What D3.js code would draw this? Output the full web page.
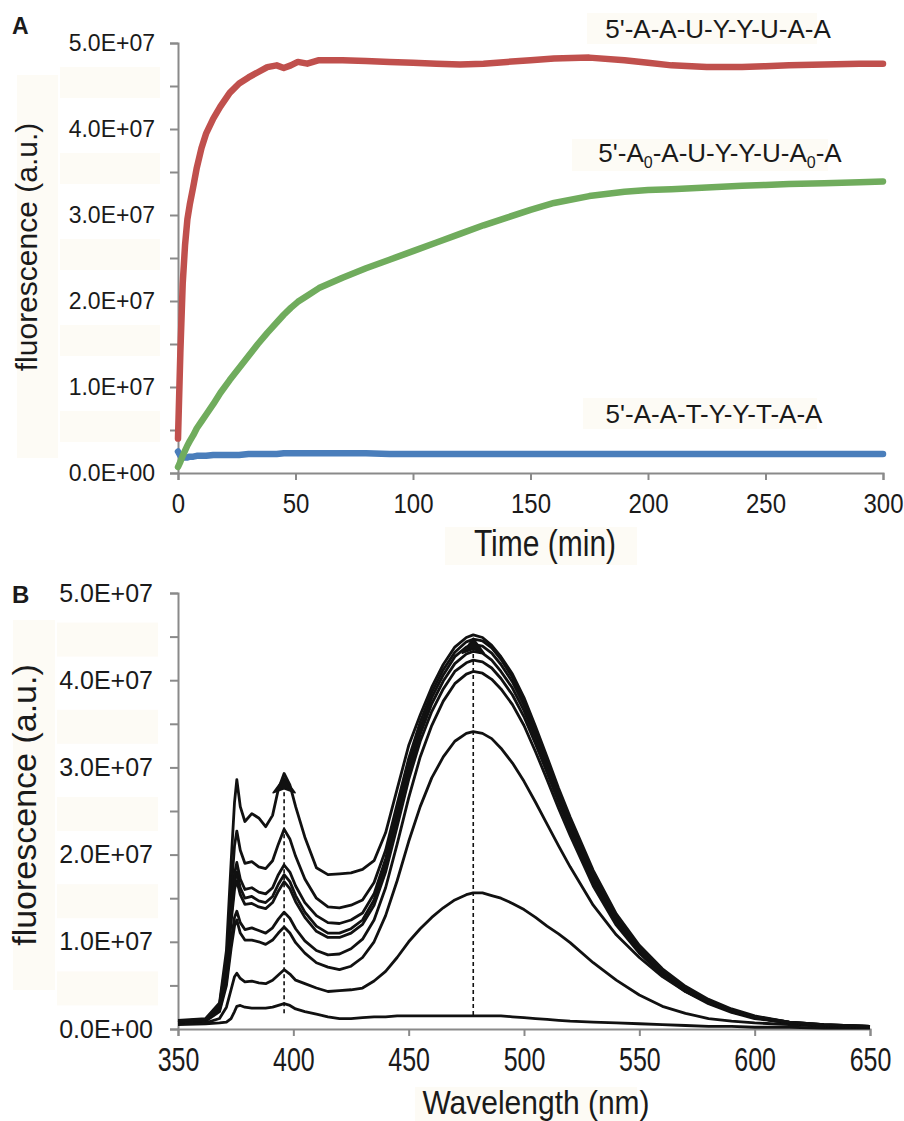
<!DOCTYPE html>
<html>
<head>
<meta charset="utf-8">
<title>Fluorescence kinetics and emission spectra</title>
<script src="https://d3js.org/d3.v7.min.js"></script>
<style>
  body { margin: 0; background: #fff; }
  svg text { font-family: "Liberation Sans", Arial, Helvetica, sans-serif; fill: #1a1a1a; }
  .axis path, .axis line { stroke: #8a8a8a; stroke-width: 2px; }
  .bg { fill: #fdfbf5; }
</style>
</head>
<body>
<svg width="904" height="1121"></svg>
<script>
// ---------- Panel A: fluorescence vs time (values in units of 1E+07) ----------
var timeMin = [0, 1, 2, 3, 4, 5, 6.5, 8, 10, 12, 15, 18, 22, 26, 30, 34, 38, 42, 45, 48, 51, 55, 60,
               70, 80, 90, 100, 110, 120, 130, 140, 150, 160, 175, 190, 200, 210, 225, 240, 250, 260, 275, 290, 300];
// 5'-A-A-U-Y-Y-U-A-A (red)
var seqU = [0.40, 1.40, 2.20, 2.65, 2.95, 3.12, 3.33, 3.55, 3.78, 3.95, 4.12, 4.26, 4.42, 4.53, 4.60, 4.66, 4.72, 4.74, 4.71, 4.74, 4.78, 4.76, 4.80,
            4.80, 4.79, 4.78, 4.77, 4.76, 4.75, 4.76, 4.78, 4.80, 4.82, 4.83, 4.80, 4.77, 4.74, 4.72, 4.72, 4.73, 4.74, 4.75, 4.76, 4.76];
// 5'-A0-A-U-Y-Y-U-A0-A (green)
var seqA0 = [0.07, 0.13, 0.20, 0.26, 0.32, 0.37, 0.44, 0.52, 0.60, 0.68, 0.80, 0.93, 1.08, 1.22, 1.36, 1.50, 1.63, 1.75, 1.84, 1.92, 1.99, 2.06, 2.15,
             2.27, 2.38, 2.48, 2.58, 2.68, 2.78, 2.88, 2.97, 3.06, 3.14, 3.22, 3.27, 3.29, 3.30, 3.32, 3.34, 3.35, 3.36, 3.37, 3.38, 3.39];
// 5'-A-A-T-Y-Y-T-A-A (blue)
var seqT = [0.25, 0.20, 0.18, 0.18, 0.18, 0.19, 0.19, 0.20, 0.20, 0.20, 0.21, 0.21, 0.21, 0.21, 0.22, 0.22, 0.22, 0.22, 0.23, 0.23, 0.23, 0.23, 0.23,
            0.23, 0.23, 0.22, 0.22, 0.22, 0.22, 0.22, 0.22, 0.22, 0.22, 0.22, 0.22, 0.22, 0.22, 0.22, 0.22, 0.22, 0.22, 0.22, 0.22, 0.22];

// ---------- Panel B: emission spectra (values in units of 1E+07) ----------
var wavelength = [350, 362, 368, 371, 373, 374.5, 375.5, 377, 379, 382, 385, 388, 391, 393.5, 396, 398.5, 401, 405, 410, 415,
                  420, 425, 430, 435, 440, 445, 450, 455, 460, 465, 470, 475, 478, 482, 486, 490, 495, 500, 505, 510,
                  515, 520, 530, 540, 550, 560, 570, 580, 590, 600, 615, 630, 650];
var spec1 = [0.05, 0.06, 0.07, 0.08, 0.12, 0.20, 0.26, 0.27, 0.25, 0.24, 0.24, 0.24, 0.25, 0.27, 0.29, 0.27, 0.23, 0.20, 0.17, 0.14,
             0.12, 0.12, 0.13, 0.14, 0.14, 0.15, 0.15, 0.15, 0.15, 0.15, 0.15, 0.15, 0.15, 0.15, 0.15, 0.15, 0.14, 0.13, 0.12, 0.11,
             0.10, 0.09, 0.08, 0.07, 0.06, 0.05, 0.04, 0.03, 0.03, 0.02, 0.02, 0.01, 0.01];
var spec2 = [0.06, 0.07, 0.12, 0.25, 0.45, 0.60, 0.64, 0.58, 0.54, 0.55, 0.53, 0.52, 0.56, 0.62, 0.68, 0.63, 0.56, 0.52, 0.47, 0.43,
             0.44, 0.45, 0.47, 0.55, 0.66, 0.82, 1.00, 1.15, 1.28, 1.39, 1.48, 1.54, 1.56, 1.56, 1.53, 1.50, 1.44, 1.37, 1.28, 1.18,
             1.09, 0.99, 0.76, 0.56, 0.39, 0.26, 0.18, 0.12, 0.09, 0.07, 0.05, 0.03, 0.02];
var spec3 = [0.07, 0.09, 0.20, 0.50, 0.92, 1.18, 1.25, 1.10, 1.02, 1.02, 1.00, 0.97, 1.02, 1.10, 1.17, 1.10, 0.99, 0.87, 0.76, 0.71,
             0.68, 0.72, 0.82, 1.00, 1.30, 1.70, 2.15, 2.55, 2.88, 3.12, 3.30, 3.39, 3.41, 3.39, 3.33, 3.22, 3.05, 2.84, 2.60, 2.35,
             2.10, 1.86, 1.42, 1.08, 0.82, 0.60, 0.43, 0.30, 0.20, 0.13, 0.07, 0.04, 0.02];
var spec4 = [0.08, 0.10, 0.22, 0.55, 1.00, 1.28, 1.35, 1.22, 1.14, 1.16, 1.13, 1.10, 1.16, 1.26, 1.34, 1.27, 1.15, 1.01, 0.90, 0.85,
             0.86, 0.92, 1.03, 1.25, 1.62, 2.12, 2.65, 3.12, 3.48, 3.76, 3.96, 4.07, 4.10, 4.08, 4.01, 3.90, 3.72, 3.48, 3.18, 2.86,
             2.53, 2.22, 1.64, 1.19, 0.87, 0.62, 0.43, 0.29, 0.19, 0.12, 0.07, 0.04, 0.02];
var spec5 = [0.08, 0.10, 0.24, 0.64, 1.22, 1.60, 1.70, 1.54, 1.43, 1.44, 1.40, 1.38, 1.45, 1.58, 1.69, 1.61, 1.46, 1.28, 1.12, 1.05,
             1.05, 1.10, 1.20, 1.42, 1.80, 2.32, 2.86, 3.30, 3.64, 3.90, 4.10, 4.20, 4.23, 4.21, 4.14, 4.02, 3.83, 3.58, 3.27, 2.94,
             2.60, 2.28, 1.69, 1.23, 0.89, 0.64, 0.45, 0.30, 0.20, 0.13, 0.07, 0.04, 0.03];
var spec6 = [0.08, 0.10, 0.25, 0.68, 1.28, 1.68, 1.80, 1.62, 1.50, 1.52, 1.47, 1.45, 1.52, 1.66, 1.77, 1.69, 1.53, 1.34, 1.18, 1.10,
             1.10, 1.15, 1.25, 1.48, 1.88, 2.40, 2.94, 3.38, 3.73, 3.99, 4.19, 4.30, 4.33, 4.31, 4.23, 4.10, 3.91, 3.65, 3.33, 2.99,
             2.65, 2.32, 1.72, 1.25, 0.91, 0.65, 0.45, 0.31, 0.20, 0.13, 0.07, 0.04, 0.03];
var spec7 = [0.09, 0.11, 0.26, 0.72, 1.35, 1.78, 1.91, 1.72, 1.60, 1.62, 1.57, 1.55, 1.62, 1.77, 1.88, 1.80, 1.64, 1.45, 1.30, 1.22,
             1.21, 1.25, 1.33, 1.55, 1.95, 2.48, 3.02, 3.45, 3.80, 4.06, 4.27, 4.38, 4.41, 4.39, 4.31, 4.18, 3.98, 3.71, 3.39, 3.04,
             2.69, 2.36, 1.75, 1.27, 0.92, 0.66, 0.46, 0.31, 0.21, 0.14, 0.08, 0.05, 0.03];
var spec8 = [0.09, 0.11, 0.28, 0.80, 1.55, 2.10, 2.27, 2.05, 1.90, 1.92, 1.86, 1.84, 1.93, 2.12, 2.29, 2.18, 1.98, 1.72, 1.50, 1.40,
             1.39, 1.42, 1.48, 1.68, 2.05, 2.58, 3.10, 3.52, 3.86, 4.12, 4.32, 4.44, 4.47, 4.45, 4.37, 4.24, 4.03, 3.76, 3.43, 3.08,
             2.72, 2.39, 1.78, 1.29, 0.94, 0.67, 0.47, 0.32, 0.21, 0.14, 0.08, 0.05, 0.03];
var spec9 = [0.10, 0.12, 0.30, 0.90, 1.90, 2.60, 2.86, 2.55, 2.38, 2.47, 2.42, 2.32, 2.45, 2.75, 2.93, 2.80, 2.55, 2.20, 1.85, 1.77,
             1.78, 1.79, 1.83, 1.93, 2.25, 2.75, 3.25, 3.60, 3.92, 4.18, 4.38, 4.49, 4.52, 4.49, 4.40, 4.27, 4.07, 3.80, 3.47, 3.12,
             2.76, 2.43, 1.82, 1.32, 0.96, 0.69, 0.49, 0.34, 0.23, 0.15, 0.08, 0.05, 0.03];
var spectra = [spec1, spec2, spec3, spec4, spec5, spec6, spec7, spec8, spec9];

// markers: dashed line from low to high value at a wavelength, arrow at top
var markerWl = [396, 478];
var markerLow = [0.18, 0.16];
var markerHigh = [2.72, 4.32];

// tick labels
var fluorTicks = [0, 0.5, 1, 1.5, 2, 2.5, 3, 3.5, 4, 4.5, 5];
var timeTicks = [0, 50, 100, 150, 200, 250, 300];
var wlTicks = [350, 400, 450, 500, 550, 600, 650];

var svg = d3.select("svg");

function fmtE(v) {
    if (v % 1 !== 0) return "";
    return v.toFixed(1) + (v === 0 ? "E+00" : "E+07");
}

// ====================== Panel A ======================
var xA = d3.scaleLinear().domain([0, 300]).range([178, 883]);
var yA = d3.scaleLinear().domain([0, 5]).range([473, 43]);

// faint text-box backgrounds from the original figure
var gA = svg.append("g");
gA.append("rect").attr("class", "bg").attr("x", 17).attr("y", 75).attr("width", 41).attr("height", 383);
[4.5, 3.5, 2.5, 1.5, 0.5].forEach(function (v) {
    gA.append("rect").attr("class", "bg").attr("x", 60).attr("y", yA(v) - 19).attr("width", 100).attr("height", 31);
});
gA.append("rect").attr("class", "bg").attr("x", 445).attr("y", 527).attr("width", 192).attr("height", 38);

gA.append("g").attr("class", "axis")
    .attr("transform", "translate(178,0)")
    .call(d3.axisLeft(yA).tickValues(fluorTicks).tickFormat(fmtE).tickSizeOuter(0).tickSize(8).tickPadding(15))
    .call(g => g.selectAll("text").style("font-size", "23px"));

gA.append("g").attr("class", "axis")
    .attr("transform", "translate(0,473)")
    .call(d3.axisBottom(xA).tickValues(timeTicks).tickSizeOuter(0).tickSize(7))
    .call(g => g.selectAll("text").attr("y", null).attr("dy", null)
        .style("font-size", "24px")
        .attr("transform", "translate(0,40) scale(1,1.17)"));

var lineA = d3.line()
    .x((d, i) => xA(timeMin[i]))
    .y(d => yA(d));

[[seqT, "#4a7ebb"], [seqA0, "#70ac5d"], [seqU, "#c0504d"]].forEach(function (s) {
    gA.append("path")
        .attr("d", lineA(s[0]))
        .attr("fill", "none")
        .attr("stroke", s[1])
        .attr("stroke-width", 6.5)
        .attr("stroke-linejoin", "round")
        .attr("stroke-linecap", "round");
});

// sequence labels (parts with .sub are drawn as subscripts)
function seqLabel(x, y, parts) {
    var t = gA.append("text").attr("x", x).attr("y", y)
        .attr("text-anchor", "middle").style("font-size", "26px");
    var shift = 0;
    parts.forEach(function (p) {
        if (p.sub) {
            t.append("tspan").attr("dy", 6).style("font-size", "16px").text(p.sub);
            shift = -6;
        } else {
            t.append("tspan").attr("dy", shift).text(p.txt);
            shift = 0;
        }
    });
    return t;
}
gA.append("rect").attr("class", "bg").attr("x", 587).attr("y", 13).attr("width", 230).attr("height", 31);
gA.append("rect").attr("class", "bg").attr("x", 572).attr("y", 139).attr("width", 256).attr("height", 32);
gA.append("rect").attr("class", "bg").attr("x", 583).attr("y", 398).attr("width", 234).attr("height", 31);
seqLabel(718, 38, [{ txt: "5'-A-A-U-Y-Y-U-A-A" }]);
seqLabel(720, 162, [{ txt: "5'-A" }, { sub: "0" }, { txt: "-A-U-Y-Y-U-A" }, { sub: "0" }, { txt: "-A" }]);
seqLabel(714, 423, [{ txt: "5'-A-A-T-Y-Y-T-A-A" }]);

gA.append("text").attr("transform", "translate(37,247) rotate(-90)")
    .attr("text-anchor", "middle").style("font-size", "30px").text("fluorescence (a.u.)");
gA.append("text").attr("transform", "translate(545,556) scale(1,1.2)")
    .attr("text-anchor", "middle").style("font-size", "30px").text("Time (min)");
gA.append("text").attr("x", 12).attr("y", 34).style("font-size", "23px").style("font-weight", "bold").text("A");

// ====================== Panel B ======================
var xB = d3.scaleLinear().domain([350, 650]).range([178, 870]);
var yB = d3.scaleLinear().domain([0, 5]).range([1029, 593]);

var gB = svg.append("g");
gB.append("rect").attr("class", "bg").attr("x", 13).attr("y", 620).attr("width", 42).attr("height", 370);
[4.5, 3.5, 2.5, 1.5, 0.5].forEach(function (v) {
    gB.append("rect").attr("class", "bg").attr("x", 57).attr("y", yB(v) - 14).attr("width", 101).attr("height", 34);
});
gB.append("rect").attr("class", "bg").attr("x", 415).attr("y", 1087).attr("width", 222).attr("height", 34);

gB.append("g").attr("class", "axis")
    .attr("transform", "translate(178,0)")
    .call(d3.axisLeft(yB).tickValues(fluorTicks).tickFormat(fmtE).tickSizeOuter(0).tickSize(8).tickPadding(17))
    .call(g => g.selectAll("text").style("font-size", "25px"));

gB.append("g").attr("class", "axis")
    .attr("transform", "translate(0,1029)")
    .call(d3.axisBottom(xB).tickValues(wlTicks).tickSizeOuter(0).tickSize(7))
    .call(g => g.selectAll("text").attr("y", null).attr("dy", null)
        .style("font-size", "25px")
        .attr("transform", "translate(0,42) scale(1,1.3)"));

var lineB = d3.line()
    .x((d, i) => xB(wavelength[i]))
    .y(d => yB(d));

gB.append("g").selectAll("path")
    .data(spectra)
    .enter().append("path")
    .attr("d", d => lineB(d))
    .attr("fill", "none")
    .attr("stroke", "#111")
    .attr("stroke-width", 2.8)
    .attr("stroke-linejoin", "round");

// dashed markers with arrowheads
markerWl.forEach(function (w, i) {
    var x = xB(w);
    gB.append("line")
        .attr("x1", x).attr("x2", x)
        .attr("y1", yB(markerLow[i])).attr("y2", yB(markerHigh[i]))
        .attr("stroke", "#111").attr("stroke-width", 1.6)
        .attr("stroke-dasharray", "4,3");
    var yt = yB(markerHigh[i]) - 14;
    gB.append("path")
        .attr("d", "M" + x + "," + yt + "L" + (x + 11) + "," + (yt + 15) + "L" + x + "," + (yt + 11) +
            "L" + (x - 11) + "," + (yt + 15) + "Z")
        .attr("fill", "#111").attr("stroke", "#111").attr("stroke-width", 1.5)
        .attr("stroke-linejoin", "round");
});

gB.append("text").attr("transform", "translate(36,805) rotate(-90)")
    .attr("text-anchor", "middle").style("font-size", "34px").text("fluorescence (a.u.)");
gB.append("text").attr("transform", "translate(536,1114) scale(1,1.1)")
    .attr("text-anchor", "middle").style("font-size", "30px").text("Wavelength (nm)");
gB.append("text").attr("x", 12).attr("y", 603).style("font-size", "24px").style("font-weight", "bold").text("B");
</script>
</body>
</html>
